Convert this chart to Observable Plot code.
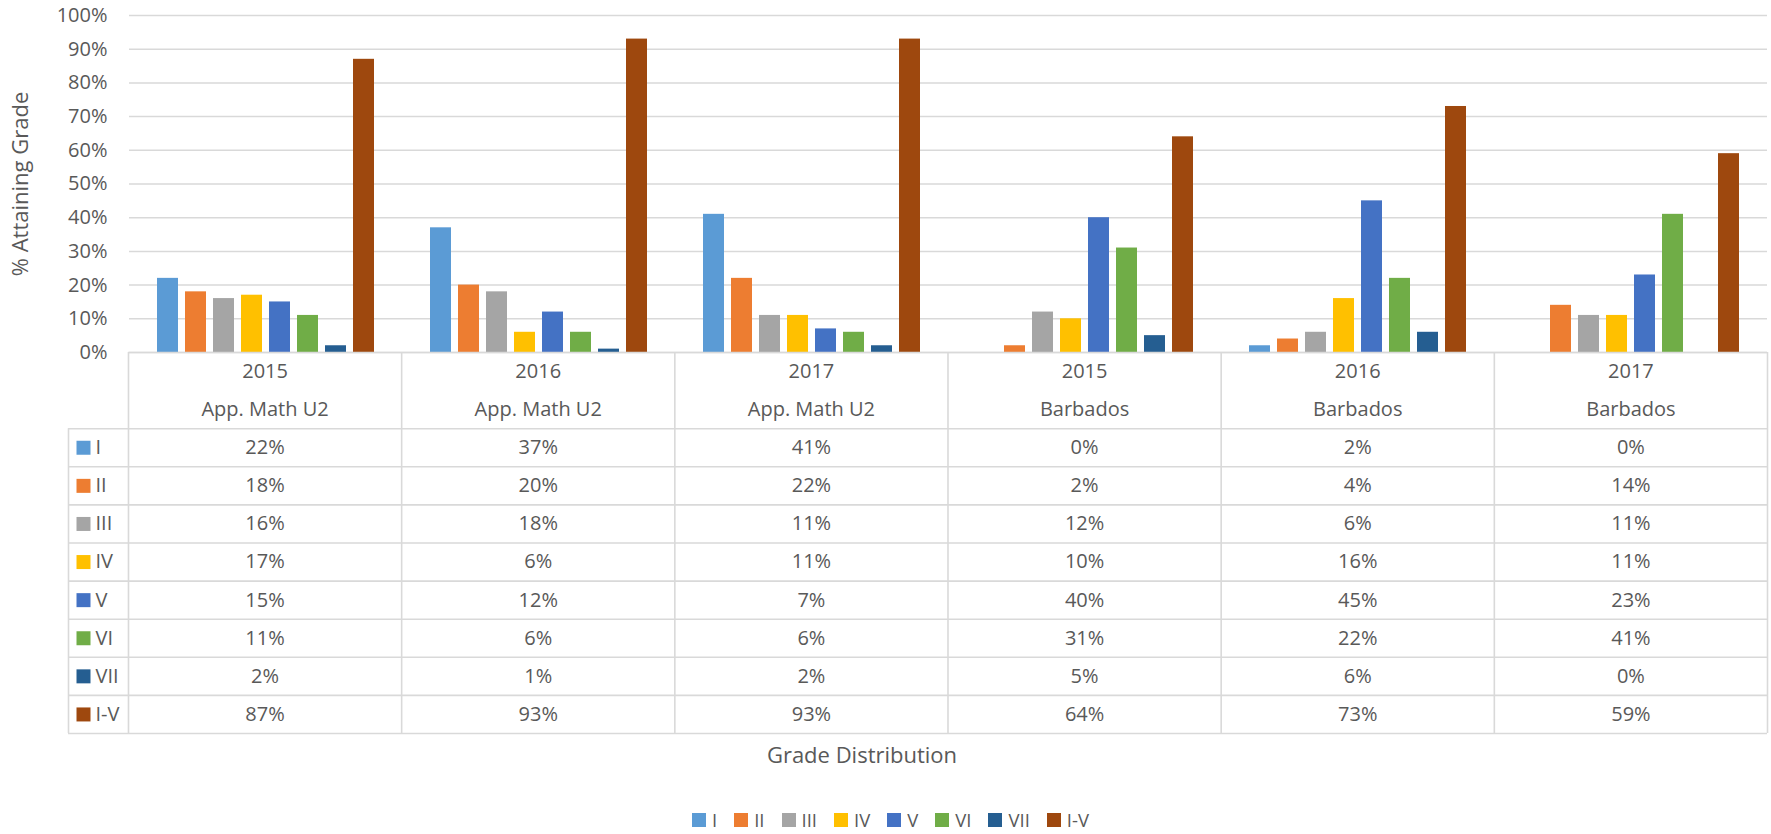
<!DOCTYPE html>
<html>
<head>
<meta charset="utf-8">
<script src="https://cdn.jsdelivr.net/npm/d3@7"></script>
<script src="https://cdn.jsdelivr.net/npm/@observablehq/plot@0.6"></script>
<style>
  html, body { margin: 0; padding: 0; background: #ffffff; }
  #chart { position: relative; width: 1771px; height: 834px; overflow: hidden; font-family: "Open Sans", sans-serif; color: #595959; }
  #chart svg { position: absolute; left: 0; }
  #xtitle { position: absolute; left: 562px; width: 600px; top: 739px; text-align: center; font-size: 22px; line-height: 30px; color: #595959; }
  #legend { position: absolute; left: 692px; top: 810px; height: 20px; display: flex; align-items: center; font-size: 18.5px; line-height: 20px; color: #595959; white-space: nowrap; }
  #legend .item { display: flex; align-items: center; margin-right: 17px; }
  #legend .sw { width: 14px; height: 14px; margin-right: 6px; }
</style>
</head>
<body>
<div id="chart"></div>
<script>
// ---- data ----
const groupYears = ["2015", "2016", "2017", "2015", "2016", "2017"];
const groupNames = ["App. Math U2", "App. Math U2", "App. Math U2", "Barbados", "Barbados", "Barbados"];
const series = ["I", "II", "III", "IV", "V", "VI", "VII", "I-V"];
const seriesColors = ["#5B9BD5", "#ED7D31", "#A5A5A5", "#FFC000", "#4472C4", "#70AD47", "#255E91", "#9E480E"];

const gradeI   = [0.22, 0.37, 0.41, 0.00, 0.02, 0.00];
const gradeII  = [0.18, 0.20, 0.22, 0.02, 0.04, 0.14];
const gradeIII = [0.16, 0.18, 0.11, 0.12, 0.06, 0.11];
const gradeIV  = [0.17, 0.06, 0.11, 0.10, 0.16, 0.11];
const gradeV   = [0.15, 0.12, 0.07, 0.40, 0.45, 0.23];
const gradeVI  = [0.11, 0.06, 0.06, 0.31, 0.22, 0.41];
const gradeVII = [0.02, 0.01, 0.02, 0.05, 0.06, 0.00];
const gradeIV_total = [0.87, 0.93, 0.93, 0.64, 0.73, 0.59];

const yTicks = [0, 0.1, 0.2, 0.3, 0.4, 0.5, 0.6, 0.7, 0.8, 0.9, 1.0];
const yTitle = "% Attaining Grade";
const xTitle = "Grade Distribution";

// ---- derived table ----
const seriesValues = [gradeI, gradeII, gradeIII, gradeIV, gradeV, gradeVI, gradeVII, gradeIV_total];
const rows = [];
series.forEach((s, si) => seriesValues[si].forEach((v, gi) => rows.push({group: gi, series: s, si, value: v})));
const pct = v => `${Math.round(v * 100)}%`;

const FONT = "'Open Sans', sans-serif";
const GRID = "#d9d9d9";
const LEGEND_X = -60 / 273.2; // legend column left edge in column units
const groupIdx = d3.range(groupYears.length);

const chart = document.getElementById("chart");

// ---- bar chart ----
const bars = Plot.plot({
  width: 1771,
  height: 354,
  marginTop: 15,
  marginBottom: 2,
  marginLeft: 128,
  marginRight: 4,
  style: {fontFamily: FONT, fontSize: "20px", color: "#595959", background: "transparent", overflow: "visible"},
  fx: {domain: groupIdx, padding: 0, axis: null},
  x: {domain: series, paddingInner: 0.233, paddingOuter: 0.877, axis: null},
  y: {domain: [0, 1], axis: null},
  color: {domain: series, range: seriesColors},
  marks: [
    Plot.gridY(yTicks, {stroke: GRID, strokeOpacity: 1, strokeWidth: 1.5}),
    Plot.barY(rows, {fx: "group", x: "series", y: "value", fill: "series"}),
    Plot.axisY(yTicks, {tickSize: 0, tickPadding: 22, tickFormat: pct, label: null, fontSize: 20, fill: "#595959"}),
    Plot.axisY([], {tickSize: 0, label: yTitle, labelAnchor: "center", labelArrow: "none", labelOffset: 117, fontSize: 22, fill: "#595959"})
  ]
});
bars.style.top = "0px";
chart.appendChild(bars);

// ---- data table ----
const hLines = [0, 2, 3, 4, 5, 6, 7, 8, 9, 10];
const vLines = d3.range(groupYears.length + 1);
const table = Plot.plot({
  width: 1771,
  height: 385,
  marginTop: 2,
  marginBottom: 2,
  marginLeft: 68,
  marginRight: 4,
  style: {fontFamily: FONT, fontSize: "20px", color: "#595959", background: "transparent", overflow: "visible"},
  x: {domain: [LEGEND_X, groupYears.length], axis: null},
  y: {domain: [0, 10], reverse: true, axis: null},
  color: {domain: series, range: seriesColors},
  marks: [
    Plot.ruleY(hLines, {y: d => d, x1: d => (d === 0 ? 0 : LEGEND_X), x2: groupYears.length, stroke: GRID, strokeWidth: 1.6}),
    Plot.ruleX(vLines, {x: d => d, y1: 0, y2: 10, stroke: GRID, strokeWidth: 1.6}),
    Plot.ruleX([LEGEND_X], {x: d => d, y1: 2, y2: 10, stroke: GRID, strokeWidth: 1.6}),
    Plot.text(groupYears, {x: (d, i) => i + 0.5, y: 0.5, text: d => d, fill: "#595959"}),
    Plot.text(groupNames, {x: (d, i) => i + 0.5, y: 1.5, text: d => d, fill: "#595959"}),
    Plot.text(rows, {x: d => d.group + 0.5, y: d => d.si + 2.5, text: d => pct(d.value), fill: "#595959"}),
    Plot.dot(series, {x: LEGEND_X, dx: 15, y: (d, i) => i + 2.5, symbol: "square", r: 7.9, fill: d => d, stroke: null}),
    Plot.text(series, {x: LEGEND_X, dx: 27, y: (d, i) => i + 2.5, text: d => d, textAnchor: "start", fill: "#595959"})
  ]
});
table.style.top = "350px";
chart.appendChild(table);

// ---- axis title & legend ----
const xt = document.createElement("div");
xt.id = "xtitle";
xt.textContent = xTitle;
chart.appendChild(xt);

const legend = document.createElement("div");
legend.id = "legend";
series.forEach((s, i) => {
  const item = document.createElement("div");
  item.className = "item";
  const sw = document.createElement("div");
  sw.className = "sw";
  sw.style.background = seriesColors[i];
  const lab = document.createElement("span");
  lab.textContent = s;
  item.appendChild(sw);
  item.appendChild(lab);
  legend.appendChild(item);
});
chart.appendChild(legend);
</script>
</body>
</html>
